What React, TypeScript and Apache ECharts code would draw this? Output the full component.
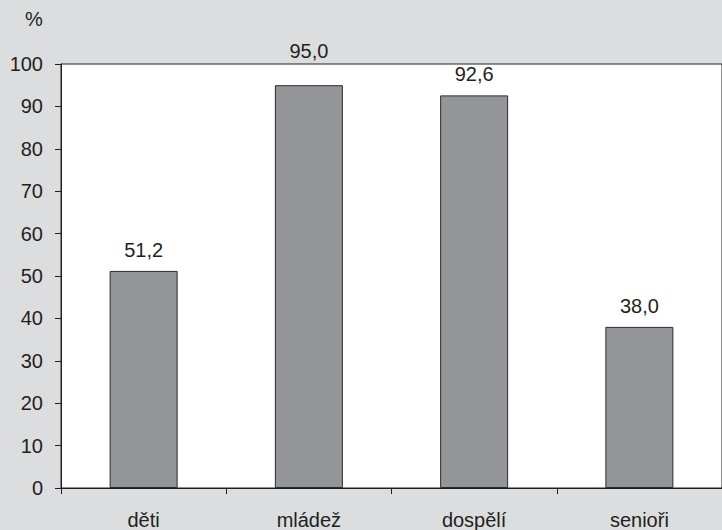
import React, { useEffect, useRef } from "react";
import * as echarts from "echarts";

const categories = ["děti", "mládež", "dospělí", "senioři"];
const values = [51.2, 95.0, 92.6, 38.0];
const yTicks = { min: 0, max: 100, interval: 10 };

const textColor = "#231f20";
const fontFamily = "'Liberation Sans', Arial, Helvetica, sans-serif";
const fontSize = 20;

export default function App() {
  const ref = useRef<HTMLDivElement>(null);

  useEffect(() => {
    if (!ref.current) return;
    const chart = echarts.init(ref.current, null, { renderer: "svg" });
    const fmt = (v: number) => v.toFixed(1).replace(".", ",");
    chart.setOption({
      animation: false,
      backgroundColor: "#dcdddf",
      textStyle: { fontFamily, color: textColor },
      grid: {
        left: 61,
        top: 64,
        width: 666,
        height: 425,
        show: true,
        backgroundColor: "#ffffff",
        borderColor: textColor,
        borderWidth: 1,
      },
      graphic: [
        {
          type: "text",
          left: 25,
          top: 9,
          style: { text: "%", fontSize, fontFamily, fill: textColor },
        },
      ],
      xAxis: {
        type: "category",
        data: categories,
        axisLine: { lineStyle: { color: textColor, width: 1 } },
        axisTick: { show: true, length: 6, alignWithLabel: false, lineStyle: { color: textColor } },
        axisLabel: { color: textColor, fontSize, margin: 22, fontFamily },
      },
      yAxis: {
        type: "value",
        min: yTicks.min,
        max: yTicks.max,
        interval: yTicks.interval,
        splitLine: { show: false },
        axisLine: { show: true, lineStyle: { color: textColor, width: 1 } },
        axisTick: { show: true, length: 6, lineStyle: { color: textColor } },
        axisLabel: { color: textColor, fontSize, margin: 18, fontFamily },
      },
      series: [
        {
          type: "bar",
          data: values.map((v) =>
            // the tallest bar's label sits above the plot frame
            v > 94 ? { value: v, label: { distance: 24 } } : v
          ),
          barWidth: 68,
          itemStyle: { color: "#939598", borderColor: "#2b2b2b", borderWidth: 1 },
          label: {
            show: true,
            position: "top",
            distance: 11,
            color: textColor,
            fontSize,
            fontFamily,
            formatter: (p: any) => fmt(Number(p.value)),
          },
        },
      ],
    });
    return () => chart.dispose();
  }, []);

  return <div ref={ref} style={{ width: 722, height: 530, position: "absolute", left: 0, top: 0 }} />;
}
